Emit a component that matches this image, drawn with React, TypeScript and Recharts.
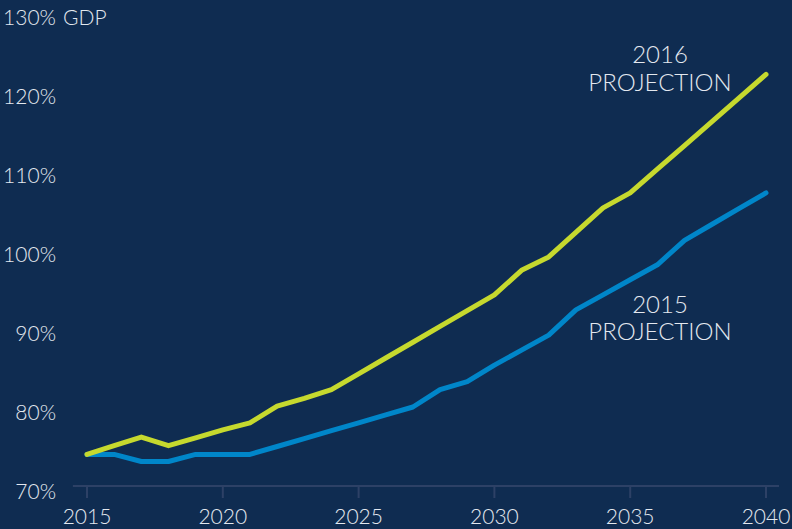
import React from 'react';
import { LineChart, Line, XAxis, YAxis, ReferenceLine } from 'recharts';

const years = [2015, 2016, 2017, 2018, 2019, 2020, 2021, 2022, 2023, 2024, 2025, 2026, 2027,
  2028, 2029, 2030, 2031, 2032, 2033, 2034, 2035, 2036, 2037, 2038, 2039, 2040];
const proj2016 = [74.0, 75.1, 76.2, 75.1, 76.1, 77.1, 78.0, 80.1, 81.1, 82.2, 84.2, 86.2, 88.2,
  90.2, 92.2, 94.2, 97.3, 99.0, 102.1, 105.2, 107.1, 110.1, 113.1, 116.1, 119.1, 122.1];
const proj2015 = [74.0, 74.0, 73.1, 73.1, 74.0, 74.0, 74.0, 75.0, 76.0, 77.0, 78.0, 79.0, 80.0,
  82.2, 83.2, 85.3, 87.2, 89.1, 92.3, 94.2, 96.1, 98.0, 101.1, 103.1, 105.1, 107.1];
const xTicks = [2015, 2020, 2025, 2030, 2035, 2040];
const yTicks = [70, 80, 90, 100, 110, 120, 130];

const data = years.map((y, i) => ({ year: y, p2016: proj2016[i], p2015: proj2015[i] }));

const BG = '#0f2c51';
const TEXT = '#e3e8ef';
const AXIS = '#2d4166';
const FONT = 'Lato, "Open Sans", sans-serif';

const YTick = (props: any) => {
  const { y, payload } = props;
  if (payload.value === 130) {
    return (
      <g>
        <text x={56} y={y + 13} textAnchor="end" fill={TEXT} fontSize={21} fontFamily={FONT} fontWeight={300}>130%</text>
        <text x={63} y={y + 13} textAnchor="start" fill={TEXT} fontSize={21} fontFamily={FONT} fontWeight={300}>GDP</text>
      </g>
    );
  }
  return (
    <text x={56} y={y + 13} textAnchor="end" fill={TEXT} fontSize={21} fontFamily={FONT} fontWeight={300}>
      {payload.value}%
    </text>
  );
};

const XTick = (props: any) => {
  const { x, payload } = props;
  return (
    <text x={x} y={524} textAnchor="middle" fill={TEXT} fontSize={21} fontFamily={FONT} fontWeight={300}>
      {payload.value}
    </text>
  );
};

const labelStyle = { fill: TEXT, fontSize: 24, fontFamily: FONT, fontWeight: 300 } as const;

export default function App() {
  return (
    <div style={{ position: 'absolute', left: 0, top: 0, width: 792, height: 529, background: BG }}>
      <LineChart width={792} height={529} data={data} margin={{ top: 12, right: 26, bottom: 0, left: 0 }}>
        <XAxis dataKey="year" type="number" domain={[2015, 2040]} ticks={xTicks} height={43}
          axisLine={false} tickLine={{ stroke: AXIS, strokeWidth: 2 }} tickSize={12} tick={<XTick />} interval={0} />
        <YAxis type="number" domain={[70, 130]} ticks={yTicks} width={87}
          axisLine={false} tickLine={false} tick={<YTick />} interval={0} />
        <ReferenceLine segment={[{ x: 2014.48, y: 70 }, { x: 2040.48, y: 70 }]} stroke={AXIS} strokeWidth={2} ifOverflow="visible" />
        <Line dataKey="p2015" stroke="#0086c9" strokeWidth={5} dot={false} isAnimationActive={false}
          strokeLinejoin="round" strokeLinecap="round" />
        <Line dataKey="p2016" stroke="#c6d92e" strokeWidth={5} dot={false} isAnimationActive={false}
          strokeLinejoin="round" strokeLinecap="round" />
      </LineChart>
      <svg width={792} height={529} style={{ position: 'absolute', left: 0, top: 0, pointerEvents: 'none' }}>
        <text x={660} y={63} textAnchor="middle" {...labelStyle}>2016</text>
        <text x={660} y={91} textAnchor="middle" {...labelStyle}>PROJECTION</text>
        <text x={660} y={313} textAnchor="middle" {...labelStyle}>2015</text>
        <text x={660} y={340} textAnchor="middle" {...labelStyle}>PROJECTION</text>
      </svg>
    </div>
  );
}
